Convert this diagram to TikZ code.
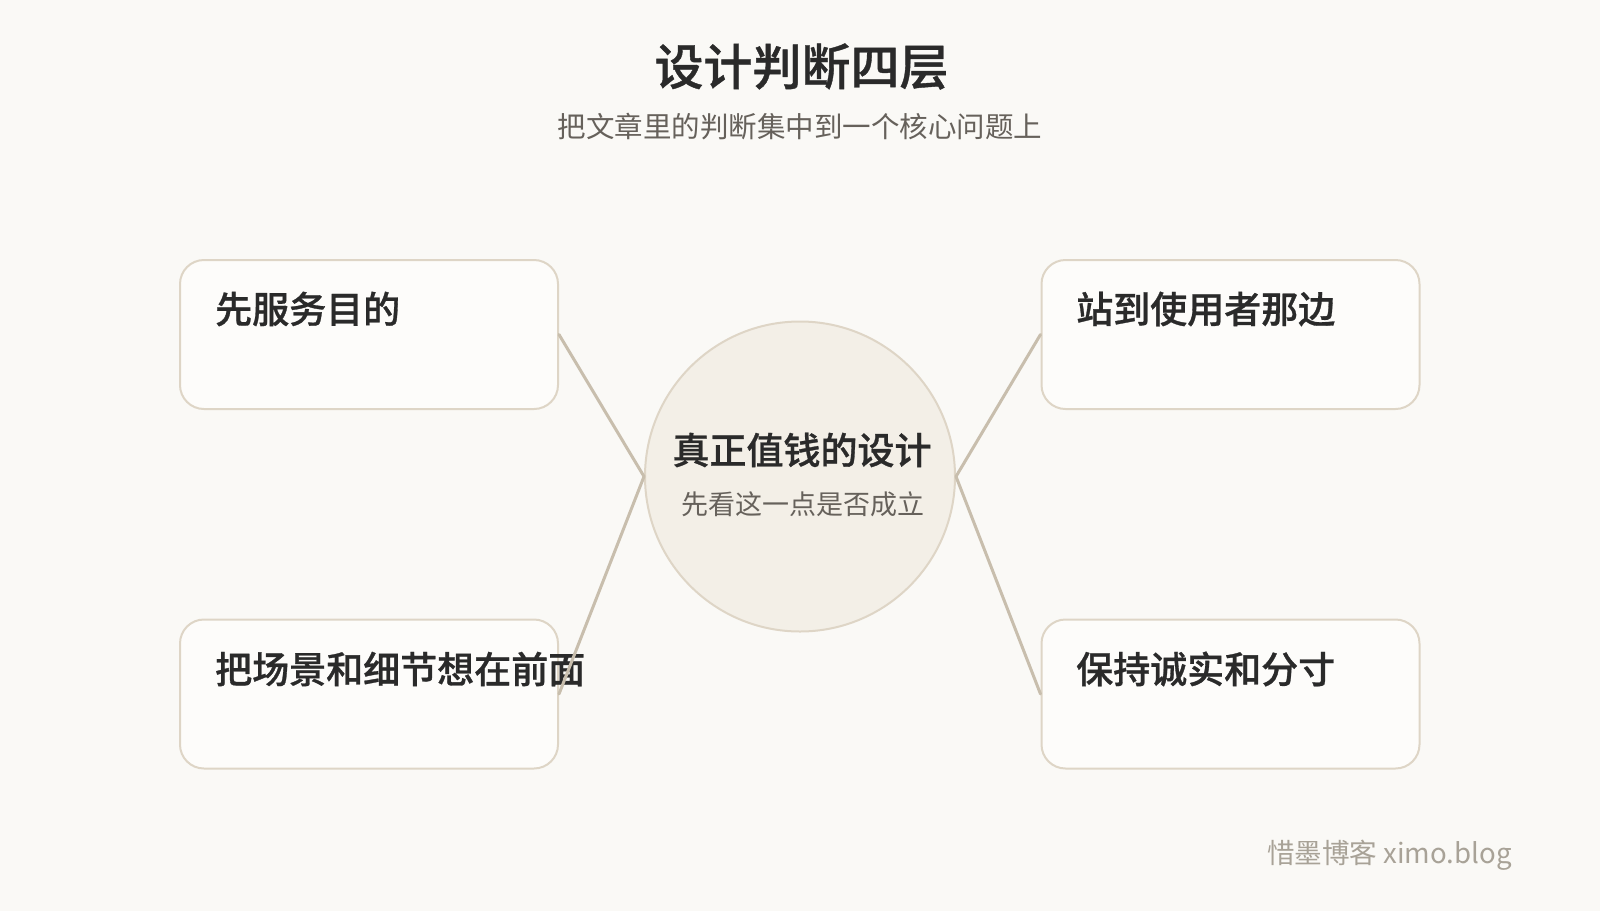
\documentclass[tikz,border=0pt]{standalone}
\usepackage{fontspec}
\setmainfont{Noto Sans CJK SC}[BoldFont={Noto Sans CJK SC Medium}, BoldFeatures={FakeBold=0.8}]
\definecolor{bg}{HTML}{FAF9F6}
\definecolor{cardfill}{HTML}{FDFCFA}
\definecolor{cardline}{HTML}{DED5C6}
\definecolor{hubfill}{HTML}{F3EFE7}
\definecolor{conncol}{HTML}{C8BEAD}
\definecolor{ink}{HTML}{2A2A2A}
\definecolor{subink}{HTML}{66615B}
\definecolor{markink}{HTML}{A8A297}
\begin{document}
\begin{tikzpicture}[x=1pt,y=-1pt,
  card/.style={draw=cardline, line width=2pt, fill=cardfill, rounded corners=24pt,
    minimum width=378pt, minimum height=149pt, inner sep=0pt},
  hubstyle/.style={circle, draw=cardline, line width=2pt, fill=hubfill,
    minimum size=310pt, inner sep=0pt},
  cardlabel/.style={anchor=west, inner sep=0pt, text=ink, font=\fontsize{37}{44}\selectfont\bfseries},
  conn/.style={draw=conncol, line width=3pt, line cap=round}]
\fill[bg] (0,0) rectangle (1600,911);
\useasboundingbox (0,0) rectangle (1600,911);

% title
\node[inner sep=0pt, text=ink, font=\fontsize{49}{58}\selectfont\bfseries] (title) at (801.5,66.5) {设计判断四层};
\node[inner sep=0pt, text=subink, font=\fontsize{28.5}{34}\selectfont] (subtitle) at (800,127) {把文章里的判断集中到一个核心问题上};

% cards
\node[card] (c1) at (369,334.5) {};
\node[card] (c2) at (369,694) {};
\node[card] (c3) at (1230.5,334.5) {};
\node[card] (c4) at (1230.5,694) {};

\node[cardlabel] (l1) at (215,309) {先服务目的};
\node[cardlabel] (l2) at (215,669) {把场景和细节想在前面};
\node[cardlabel] (l3) at (1076,309) {站到使用者那边};
\node[cardlabel] (l4) at (1076,669) {保持诚实和分寸};

% hub
\node[hubstyle] (hub) at (800,476.5) {};
\node[inner sep=0pt, text=ink, font=\fontsize{37}{44}\selectfont\bfseries] (hubtitle) at (802,450) {真正值钱的设计};
\node[inner sep=0pt, text=subink, font=\fontsize{27}{32}\selectfont] (hubsub) at (802.5,504) {先看这一点是否成立};

% connectors
\draw[conn] (hub.west) -- (c1.east);
\draw[conn] (hub.west) -- (c2.east);
\draw[conn] (hub.east) -- (c3.west);
\draw[conn] (hub.east) -- (c4.west);

% watermark
\node[anchor=east, inner sep=0pt, text=markink, font=\fontsize{27.6}{32}\selectfont] (mark) at (1512,855) {惜墨博客 ximo.blog};
\end{tikzpicture}
\end{document}
